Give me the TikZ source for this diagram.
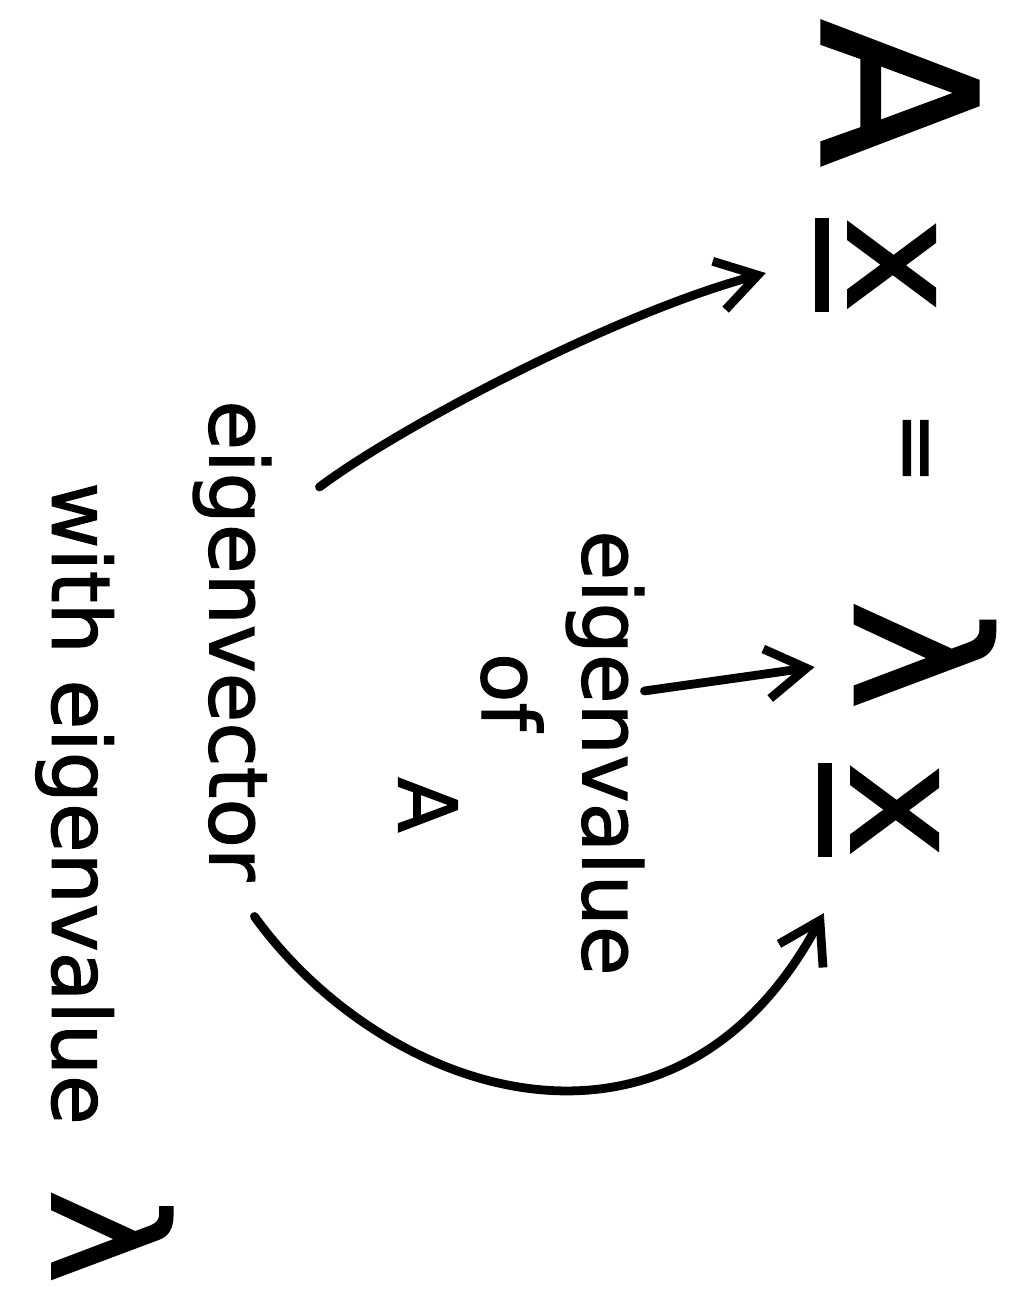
\documentclass[tikz,border=0pt]{standalone}
\usepackage{fontspec}
\newfontfamily\hand[FakeBold=1.5]{DejaVu Sans}
\newcommand{\ulx}{\vtop{\hbox{x}\kern0.12em\hrule height0.09em}}
\usetikzlibrary{arrows.meta}
\begin{document}
\begin{tikzpicture}[x=0.02cm, y=-0.02cm,
    sym/.style={rotate=-90, inner sep=0pt, font=\hand\fontsize{90}{100}\selectfont},
    word/.style={rotate=-90, inner sep=0pt, font=\hand\fontsize{46}{52}\selectfont},
    pen/.style={line width=5pt, line cap=round, -{Straight Barb[length=8mm, width=10mm]}}]
    \useasboundingbox (0,0) rectangle (1010,1292);

    % Equation
    \node[sym, font=\hand\fontsize{122}{130}\selectfont] (A) at (900,93) {A};
    \node[sym] (x1) at (875,265) {\ulx};
    \node[sym, font=\hand\fontsize{50}{56}\selectfont] (eq) at (908,448) {=};
    \node[sym, font=\hand\fontsize{105}{110}\selectfont] (lam) at (925,655) {λ};
    \node[sym] (x2) at (878,810) {\ulx};

    % Labels
    \node[word, anchor=west] (eval) at (605,530) {eigenvalue};
    \node[word] (of) at (512,692) {of};
    \node[word] (mat) at (428,805) {A};
    \node[word, anchor=west] (evec) at (232,400) {eigenvector};
    \node[word, anchor=west] (with) at (104,482) {with eigenvalue\hspace{1.3cm}{\fontsize{90}{90}\selectfont λ}};

    % Arrows
    \draw[pen] ([shift={(0,-62)}]eval.north) -- ([shift={(-40,12)}]lam.south);
    \draw[pen] ([shift={(48,87)}]evec.north west) .. controls +(80,-60) and +(-150,40) .. ([shift={(-49,8)}]x1.south);
    \draw[pen] ([shift={(-17,35)}]evec.north east) .. controls +(130,180) and +(-150,280) .. ([shift={(6,56)}]x2.south east);
\end{tikzpicture}
\end{document}
